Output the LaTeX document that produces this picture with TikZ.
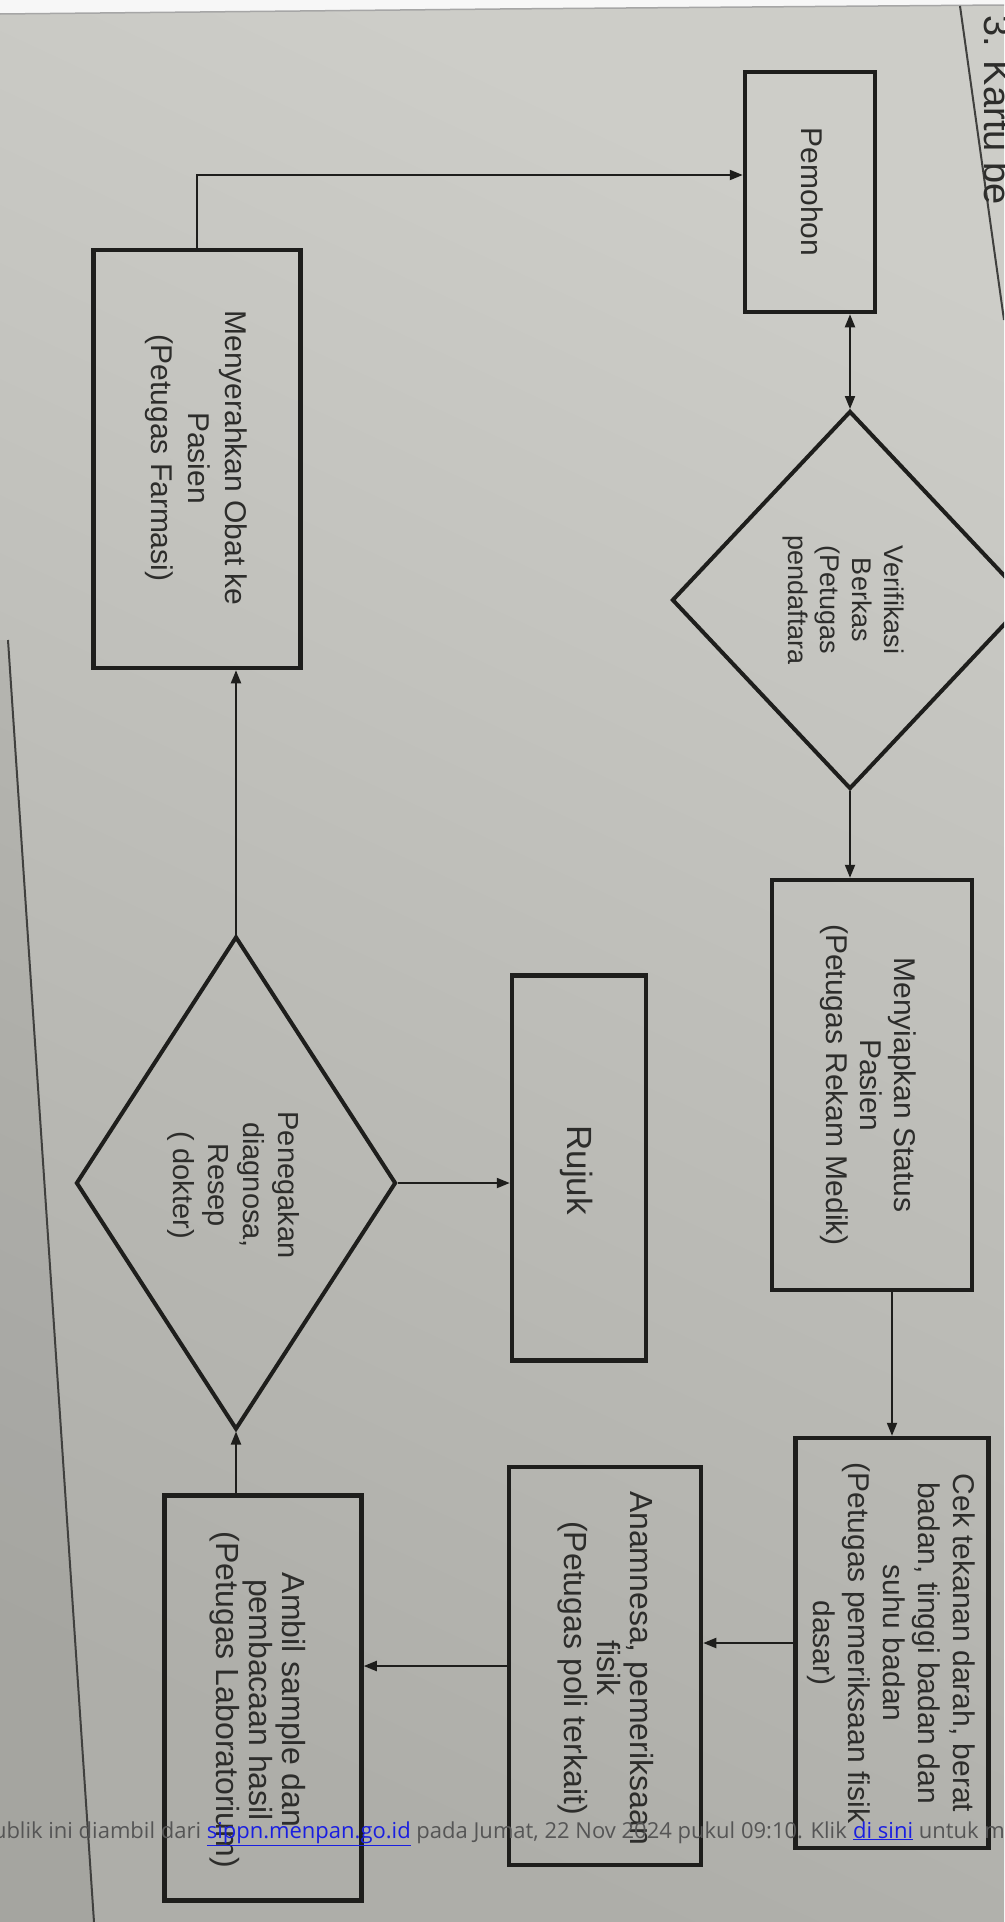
\documentclass[tikz,border=0pt]{standalone}
\usepackage{fontspec}
\setmainfont{Liberation Sans}
\newfontfamily\ovlfont{Open Sans}
\usetikzlibrary{arrows.meta,shapes.geometric}
\definecolor{ink}{RGB}{30,30,28}
\definecolor{txt}{RGB}{45,45,43}
\definecolor{paperA}{RGB}{205,205,200}
\definecolor{paperB}{RGB}{174,174,169}
\definecolor{ovl}{RGB}{85,85,85}
\definecolor{lnk}{RGB}{25,30,225}
\newcommand\fsz[2]{\fontsize{#1}{#2}\selectfont}
\begin{document}
\begin{tikzpicture}[x=1pt,y=-1pt,
  boxnode/.style={draw=ink, line width=4.5pt, rectangle, inner sep=0pt},
  dia/.style={draw=ink, line width=4pt, diamond, inner sep=0pt},
  lbl/.style={text=txt, rotate=-90, align=center, inner sep=0pt},
  conn/.style={draw=ink, line width=2pt, -{Triangle[length=13pt,width=10pt]}},
  biconn/.style={draw=ink, line width=2pt, {Triangle[length=13pt,width=10pt]}-{Triangle[length=13pt,width=10pt]}}]
\useasboundingbox (0,0) rectangle (1004,1922);
\clip (0,0) rectangle (1004,1922);
% paper
\shade[top color=paperA, bottom color=paperB, shading angle=-25] (0,0) rectangle (1004,1922);
\fill[white!94!gray] (0,0) -- (1004,0) -- (1004,5) -- (500,9) -- (0,14) -- cycle;
\draw[gray!70, line width=1.5pt] (0,14) -- (500,9) -- (1004,5);
\fill[black, opacity=0.05] (8,640) -- (94,1922) -- (0,1922) -- (0,640) -- cycle;
\draw[ink!85, line width=2pt] (8,640) -- (94,1922);
\draw[ink!85, line width=2pt] (960,6) -- (1004,320);
\node[lbl, anchor=base west, font=\fsz{38}{44}] (kartu) at (984,15) {3. Kartu be};

% shapes
\node[boxnode, minimum width=130pt, minimum height=240pt] (pem) at (810,192) {};
\node[dia, minimum width=356pt, minimum height=378pt] (ver) at (850,600) {};
\node[boxnode, minimum width=200pt, minimum height=410pt] (mys) at (872,1085) {};
\node[boxnode, minimum width=193pt, minimum height=410pt] (cek) at (892,1643) {};
\node[boxnode, minimum width=192pt, minimum height=398pt] (ana) at (605,1666) {};
\node[boxnode, minimum width=197pt, minimum height=405pt] (amb) at (263,1698) {};
\node[dia, minimum width=320pt, minimum height=493pt] (pen) at (236,1183) {};
\node[boxnode, minimum width=134pt, minimum height=385pt] (ruj) at (579,1168) {};
\node[boxnode, minimum width=207pt, minimum height=418pt] (mny) at (197,459) {};

% labels
\node[lbl, font=\fsz{30}{35}] (tpem) at (812,192) {Pemohon};
\node[lbl, font=\fsz{27}{32}] (tver) at (843,600) {Verifikasi\\Berkas\\(Petugas\\pendaftara};
\node[lbl, font=\fsz{30}{34}] (tmys) at (868,1085) {Menyiapkan Status\\Pasien\\(Petugas Rekam Medik)};
\node[lbl, font=\fsz{30}{35}] (tcek) at (891,1643) {Cek tekanan darah, berat\\badan, tinggi badan dan\\suhu badan\\(Petugas pemeriksaan fisik\\dasar)};
\node[lbl, font=\fsz{32}{33}] (tana) at (606,1668) {Anamnesa, pemeriksaan\\fisik\\(Petugas poli terkait)};
\node[lbl, font=\fsz{32}{33}] (tamb) at (258,1700) {Ambil sample dan\\pembacaan hasil\\(Petugas Laboratorium)};
\node[lbl, font=\fsz{29}{35}] (tpen) at (234,1185) {Penegakan\\diagnosa,\\Resep\\( dokter)};
\node[lbl, font=\fsz{35}{40}] (truj) at (577,1170) {Rujuk};
\node[lbl, font=\fsz{30}{37}] (tmny) at (196,458) {Menyerahkan Obat ke\\Pasien\\(Petugas Farmasi)};

% connectors
\draw[biconn] (ver.north |- pem.south) -- (ver.north);
\draw[conn] (ver.south) -- (ver.south |- mys.north);
\draw[conn] (cek.north |- mys.south) -- (cek.north);
\draw[conn] (cek.west) -- (cek.west -| ana.east);
\draw[conn] (ana.west) -- (ana.west -| amb.east);
\draw[conn] (amb.north -| pen.south) -- (pen.south);
\draw[conn] (pen.east) -- (pen.east -| ruj.west);
\draw[conn] (pen.north) -- (pen.north |- mny.south);
\coordinate (topc) at (197,175);
\draw[conn] (mny.north) -- (topc) -- (topc -| pem.west);

% overlay
\node[font=\ovlfont\fsz{22}{26}, text=ovl, anchor=base east, inner sep=0pt] (ovA) at (847,1838) {publik ini diambil dari \textcolor{lnk}{\underline{sippn.menpan.go.id}} pada Jumat, 22 Nov 2024 pukul 09:10. Klik};
\node[font=\ovlfont\fsz{22}{26}, text=ovl, anchor=base west, inner sep=0pt] (ovB) at (853,1838) {\textcolor{lnk}{\underline{di sini}} untuk m};
\end{tikzpicture}
\end{document}
